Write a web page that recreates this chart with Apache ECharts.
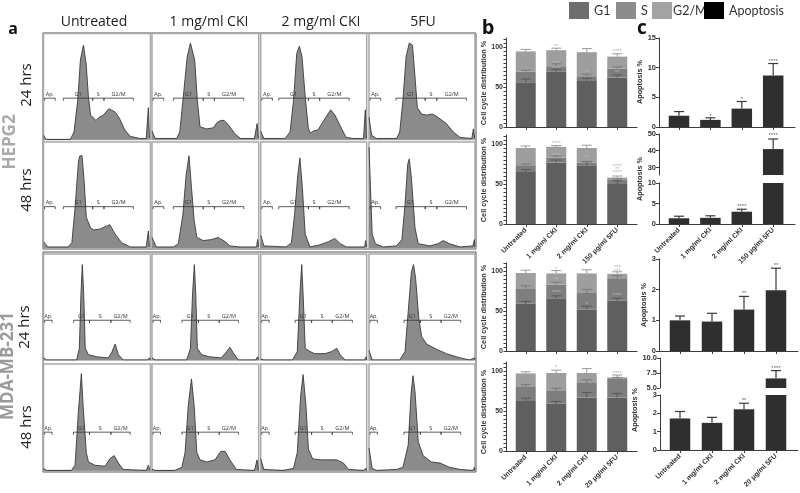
<!DOCTYPE html>
<html><head><meta charset="utf-8">
<style>html,body{margin:0;padding:0;background:#fff}#c{width:800px;height:493px}</style>
<script src="https://cdn.jsdelivr.net/npm/echarts@6/dist/echarts.min.js"></script>
</head><body><div id="c"></div>
<script>
// ---------- DATA ----------
const treatmentTitles = ['Untreated','1 mg/ml CKI','2 mg/ml CKI','5FU'];
const hepg2Cats = ['Untreated','1 mg/ml CKI','2 mg/ml CKI','150 μg/ml 5FU'];
const mdaCats = ['Untreated','1 mg/ml CKI','2 mg/ml CKI','20 μg/ml 5FU'];

// histograms: [channel %, count %]
const hist_H24_untreated=[[0,4],[2.5,0],[25,0],[28.5,7],[32,37],[34.5,75],[37.3,89],[39.8,72],[42,40],[44,23],[49,18],[52,21],[56,23],[61,29],[66.8,26],[71,20],[76,9],[81,3],[90,1],[96,1],[98,30],[99,1]];
const hist_H24_ck1=[[0,8],[1,7],[3,1],[23,1],[26,7],[29,37],[33,78],[36,91],[40,75],[42.5,37],[45,12],[51,10],[57.5,11],[61,16],[64.5,18],[67.5,18],[71.5,14],[78,5],[83,1],[96,1],[98.5,15],[99.7,1]];
const hist_H24_ck2=[[0,8],[1,9],[3,1],[23,1],[27.7,7],[31,37],[34,81],[36.5,88],[39,78],[42,40],[45,10],[47,6],[49.7,8],[54,9],[59,17],[66,28],[70,23],[75,13],[80.5,2],[87,1],[97,1],[98.7,28],[99.7,1]];
const hist_H24_fu=[[0,21],[0.6,21],[2.5,4],[7,1],[26,1],[29,7],[32,37],[35,78],[38,91],[41,89],[43.4,59],[45.6,30],[49.7,24],[54,23],[60,24],[65,21],[73,15],[79.5,7],[86,2],[97,1],[98.5,10],[99.7,1]];
const hist_H48_untreated=[[0,6],[1,6],[4,1],[23,1],[26.5,5],[29.5,38],[32.7,82],[34,87],[36,87],[38,63],[40,29],[44,19],[47,17],[53,18],[62,22],[67,13],[73,5],[81,1],[96,1],[98,16],[99,1]];
const hist_H48_ck1=[[0,10],[1,10],[4,1],[20,1],[24.7,4],[29,32],[32,69],[34.7,87],[37,57],[39.5,26],[42,10],[48,7],[56,8],[62,10],[68.5,6],[73,2],[82.5,1],[98,1],[99,8],[99.9,1]];
const hist_H48_ck2=[[0,12],[1,12],[3,2],[24,1],[29,5],[32,32],[35,69],[37,85],[39.3,57],[42,13],[46.5,1],[56,3],[64,6],[70,9],[75,4],[81,1],[98,1],[99,7],[99.9,1]];
const hist_H48_fu=[[0,95],[1,95],[3,13],[6,4],[13.5,1],[26,2],[31,8],[34,41],[36.5,79],[38,84],[40,66],[43.4,19],[46.5,4],[57.5,2],[65,4],[70,7],[76,4],[86,1],[98,2],[99.5,8],[99.9,1]];
const hist_M24_untreated=[[0,2],[1,2],[3,0],[31,0],[33.5,11],[35,62],[36.3,90],[37.6,62],[39,11],[42,5],[50,3],[60.5,2],[63.7,7],[67,15],[70,5],[74.5,0],[97,0],[99,2],[99.8,0]];
const hist_M24_ck1=[[0,2],[1,2],[3,0],[32.5,0],[36,11],[38,62],[39.7,90],[41,62],[42.5,11],[46.5,5],[54,3],[65,2],[70,8],[73,12],[76,7],[81,0],[97,0],[99,3],[99.8,0]];
const hist_M24_ck2=[[0,1],[1,1],[3,0],[30,0],[34.5,8],[37,62],[38.7,90],[40,62],[42,11],[46.5,8],[51,6],[60.7,6],[67,8],[71.7,11],[75,5],[79.5,0],[98,0],[99.5,3],[99.9,0]];
const hist_M24_fu=[[0,9],[0.6,9],[3,0],[29,0],[34,8],[37,46],[40,83],[42,90],[44,77],[47,39],[49.7,22],[54.4,15],[64,10],[73,6],[86,2],[95,0],[99.5,2],[99.9,0]];
const hist_M48_untreated=[[0,2],[1,2],[3,0],[26,0],[29.5,5],[32.6,55],[35.4,91],[37,61],[40,17],[42,8],[48,5],[57.5,4],[62,11],[66,14],[70,7],[74.5,1],[96,0],[98,5],[99.5,0]];
const hist_M48_ck1=[[0,1],[1,1],[3,0],[21,0],[28,3],[31,17],[34,61],[37,86],[39.5,61],[42,17],[45,10],[51,8],[59,10],[64.5,18],[68.5,18],[73,10],[79,1],[96,0],[98.5,10],[99.7,0]];
const hist_M48_ck2=[[0,11],[0.6,11],[3,1],[21,0],[31,2],[34.5,17],[37.7,70],[40,90],[42.7,61],[45,20],[49,11],[56,10],[62,10],[71.7,10],[78,7],[83,1],[97,0],[99.5,2],[99.9,0]];
const hist_M48_fu=[[0,21],[1,21],[3,2],[7,0],[26,1],[32,3],[37,24],[39.6,71],[41.5,89],[43.4,74],[46.5,27],[51,14],[59,8],[67,7],[76,3],[86,1],[98,0],[99.5,3],[99.9,0]];
// gates: ticks of Ap start/end and G1/S/G2M edges (channel %), and height
const gatesHepg2=[[1,11,18.6,46,56.5,84],[1,11,20,48,58.5,86],[1,11,17,45,55.6,83.5],[1,11,25.5,53,64,92]];
const gatesMda=[[1,8,28,43,63,81],[1,8,28,43.5,63,81],[1,8,32.5,48,67.5,86.5],[1,8,33,48.5,68,86.5]];
const gateLevels=[39,39,37.5,36];

// panel b: segments of stacked bars
const b1G1=[56,69,57.5,62], b1S=[13,7,6,11], b1G2M=[25.5,20,30,15];
const b1ErrG1=[60,72,61,65], b1ErrS=[71,79,66,75], b1ErrG2M=[97,98.5,98,91.5];
const b2G1=[65,77,73.5,50], b2S=[8.5,6,3.5,5], b2G2M=[21.5,13.5,18,3];
const b2ErrG1=[68,80,78,54], b2ErrS=[75,85,78,56.5], b2ErrG2M=[97.5,98,98.5,60];
const b3G1=[59,66,52,63], b3S=[18.5,17,20.5,28], b3G2M=[20,14,24.5,5.5];
const b3ErrG1=[62,69,56,66], b3ErrS=[81.5,86,77,94], b3ErrG2M=[101,100.5,101.5,99];
const b4G1=[62.5,59,67,67], b4S=[17.5,16,18,23], b4G2M=[17,22.5,12.5,2];
const b4ErrG1=[66,62,73,72], b4ErrS=[83,78.5,89,92], b4ErrG2M=[99,101,103,95];
const b1Stars=[[1,101,'**'],[3,94,'****'],[1,80,'***'],[1,73,'****'],[2,68,'**'],[3,68,'**']];
const b2Stars=[[1,101,'****'],[1,91,'*'],[1,86,'****'],[2,88,'*'],[2,83.5,'***'],[3,72,'****'],[3,68,'**'],[3,64,'****']];
const b3Stars=[[1,102.5,'*'],[1,89,'**'],[1,73,'****'],[2,58,'*'],[3,104,'***'],[3,100,'***'],[3,69,'****']];
const b4Stars=[[1,104,'*'],[3,97,'****']];

// panel c
const c1Values=[1.9,1.2,3.1,8.7], c1Err=[2.6,1.55,4.3,10.7], c1Stars=[[1,1.8,'*'],[2,4.7,'*'],[3,11.1,'****']];
const c2Values=[1.4,1.5,3,41], c2Err=[1.9,2,3.6,47], c2Stars=[[2,4.2,'****']], c2TopStars=[[3,49,'****']];
const c3Values=[1,0.96,1.35,1.98], c3Err=[1.14,1.23,1.78,2.7], c3Stars=[[2,1.88,'**'],[3,2.8,'**']];
const c4Values=[1.72,1.48,2.22,6.6], c4Err=[2.1,1.78,2.55,7.9], c4Stars=[[2,2.7,'**']], c4TopStars=[[3,8.3,'****']];

// ---------- BUILD ----------
const SANS='"Liberation Sans",Arial,sans-serif', OPEN='"Open Sans",sans-serif';
const grid=[],xAxis=[],yAxis=[],series=[],graphic=[];
const noAxis=(t,min,max)=>({type:t||'value',min:min,max:max,show:false});
function addGrid(g,x,y){const i=grid.length;grid.push(g);x.gridIndex=i;y.gridIndex=i;xAxis.push(x);yAxis.push(y);return i;}

const colsX=[[43.5,150.5],[152,258.7],[260.7,366.7],[369,475]];
const rowsY=[[33.5,106],[142,106],[254,106],[364,106.5]];
const hists=[
 [hist_H24_untreated,hist_H24_ck1,hist_H24_ck2,hist_H24_fu],
 [hist_H48_untreated,hist_H48_ck1,hist_H48_ck2,hist_H48_fu],
 [hist_M24_untreated,hist_M24_ck1,hist_M24_ck2,hist_M24_fu],
 [hist_M48_untreated,hist_M48_ck1,hist_M48_ck2,hist_M48_fu]];

[[43,33,433,216],[43,252,433,220]].forEach(f=>{
  addGrid({left:f[0],top:f[1],width:f[2],height:f[3],show:true,borderColor:'#555',borderWidth:1,backgroundColor:'#fff'},noAxis('value',0,1),noAxis('value',0,1));
});
hists.forEach((row,r)=>row.forEach((h,c)=>{
  const i=addGrid({left:colsX[c][0],width:colsX[c][1]-colsX[c][0],top:rowsY[r][0],height:rowsY[r][1],show:true,borderColor:'#a9a9a9',borderWidth:1.5,backgroundColor:'#fff'},noAxis('value',0,100),noAxis('value',0,100));
  series.push({type:'line',xAxisIndex:i,yAxisIndex:i,data:h,showSymbol:false,silent:true,lineStyle:{color:'#3a3a3a',width:0.9},areaStyle:{color:'#8b8b8b',opacity:1},z:2});
  const g=(r<2?gatesHepg2:gatesMda)[c], lv=gateLevels[r];
  const segs=[[g[0],g[1],'Ap.'],[g[2],g[3],'G1'],[g[3],g[4],'S'],[g[4],g[5],'G2/M']];
  series.push({type:'custom',xAxisIndex:i,yAxisIndex:i,data:segs.map(s=>[s[0],s[1]]),z:5,silent:true,
    renderItem:(p,api)=>{
      const s=segs[p.dataIndex],a=api.coord([s[0],lv]),b=api.coord([s[1],lv]);
      const st={stroke:'#333',lineWidth:0.8,fill:null};
      return {type:'group',children:[
        {type:'line',shape:{x1:a[0],y1:a[1],x2:b[0],y2:b[1]},style:st},
        {type:'line',shape:{x1:a[0],y1:a[1],x2:a[0],y2:a[1]+2.5},style:st},
        {type:'line',shape:{x1:b[0],y1:b[1],x2:b[0],y2:b[1]+2.5},style:st},
        {type:'text',style:{x:(a[0]+b[0])/2,y:a[1]-4,text:s[2],fill:'#333',font:'5.5px '+OPEN,textAlign:'center',textVerticalAlign:'middle'}}
      ]};
    }});
}));

function errSeries(i,vals,color,lw){
  return {type:'custom',xAxisIndex:i,yAxisIndex:i,z:4,silent:true,data:vals.map(v=>[v[0],v[1],v[2]]),
    renderItem:(p,api)=>{
      const t=api.coord([api.value(0),api.value(1)]),b=api.coord([api.value(0),api.value(2)]);
      const st={stroke:color,lineWidth:lw,fill:null};
      return {type:'group',children:[
        {type:'line',shape:{x1:t[0],y1:t[1],x2:b[0],y2:b[1]},style:st},
        {type:'line',shape:{x1:t[0]-5,y1:t[1],x2:t[0]+5,y2:t[1]},style:st}]};
    }};
}
function starSeries(i,list,color,size){
  return {type:'custom',xAxisIndex:i,yAxisIndex:i,z:6,silent:true,data:list.map(s=>[s[0],s[1]]),
    renderItem:(p,api)=>{
      const s=list[p.dataIndex],a=api.coord([s[0],s[1]]);
      return {type:'text',style:{x:a[0],y:a[1],text:s[2],fill:color,font:size+'px '+SANS,textAlign:'center',textVerticalAlign:'middle'}};
    }};
}
function axisLine(left,width,top,height){
  addGrid({left:left,width:width,top:top,height:height},
    {type:'value',min:0,max:1,position:'bottom',axisLine:{show:true,onZero:false,lineStyle:{color:'#3c3c3c',width:1}},axisTick:{show:false},axisLabel:{show:false},splitLine:{show:false}},
    {type:'value',min:0,max:1,show:false});
}
const catAxis=(cats,labels)=>({type:'category',data:cats,axisLine:{show:false},
  axisTick:{show:true,alignWithLabel:true,length:3,lineStyle:{color:'#3c3c3c'}},
  axisLabel:{show:labels,rotate:45,fontSize:7,fontWeight:'bold',color:'#333',fontFamily:SANS,margin:5,interval:0}});
const valAxis=(min,max,ticks,offset,size,fmt)=>({type:'value',min:min,max:max,offset:offset,
  axisLine:{show:true,lineStyle:{color:'#3c3c3c',width:1}},
  axisTick:{show:true,length:3,lineStyle:{color:'#3c3c3c'},customValues:ticks},
  axisLabel:{fontSize:size,fontWeight:'bold',color:'#333',fontFamily:SANS,margin:3,customValues:ticks,formatter:fmt||(v=>String(v))},
  splitLine:{show:false}});
const bTicks=[0,5,10,15,20,25,30,35,40,45,50,55,60,65,70,75,80,85,90,95,100,105,110];

const bRows=[
 {top:38,bottom:127,g1:b1G1,s:b1S,g:b1G2M,eg1:b1ErrG1,es:b1ErrS,eg:b1ErrG2M,stars:b1Stars,cats:hepg2Cats,labels:false},
 {top:135,bottom:224,g1:b2G1,s:b2S,g:b2G2M,eg1:b2ErrG1,es:b2ErrS,eg:b2ErrG2M,stars:b2Stars,cats:hepg2Cats,labels:true},
 {top:263,bottom:351,g1:b3G1,s:b3S,g:b3G2M,eg1:b3ErrG1,es:b3ErrS,eg:b3ErrG2M,stars:b3Stars,cats:mdaCats,labels:false},
 {top:362,bottom:451,g1:b4G1,s:b4S,g:b4G2M,eg1:b4ErrG1,es:b4ErrS,eg:b4ErrG2M,stars:b4Stars,cats:mdaCats,labels:true}];
const colG1='#5f5f5f',colS='#7e7e7e',colG2='#9e9e9e',colAp='#2f2f2f';
bRows.forEach(r=>{
  axisLine(506,131,r.top,r.bottom-r.top);
  const ymax=(r.bottom-r.top)/0.8;
  const ax=valAxis(0,ymax,bTicks.filter(v=>v<=ymax),4.5,7);
  ax.axisLabel.customValues=[0,50,100];
  ax.axisTick.length=2.5;
  const i=addGrid({left:510.5,width:122,top:r.top,height:r.bottom-r.top},catAxis(r.cats,r.labels),ax);
  const add=(name,d,color)=>series.push({type:'bar',name:name,xAxisIndex:i,yAxisIndex:i,stack:'x'+i,data:d,barWidth:20,itemStyle:{color:color},silent:true,z:2});
  add('G1',r.g1,colG1);add('S',r.s,colS);add('G2/M',r.g,colG2);
  const cum1=r.g1, cum2=r.g1.map((v,k)=>v+r.s[k]), cum3=cum2.map((v,k)=>v+r.g[k]);
  series.push(errSeries(i,r.eg1.map((v,k)=>[k,v,cum1[k]]),'#555',0.9));
  series.push(errSeries(i,r.es.map((v,k)=>[k,v,cum2[k]]),'#777',0.9));
  series.push(errSeries(i,r.eg.map((v,k)=>[k,v,cum3[k]]),'#909090',0.9));
  series.push(starSeries(i,r.stars,'#b5b5b5',6));
});

function apBars(i,vals,errs,stars){
  series.push({type:'bar',name:'Apoptosis',xAxisIndex:i,yAxisIndex:i,data:vals,barWidth:20.5,itemStyle:{color:colAp},silent:true,z:2});
  series.push(errSeries(i,errs,'#3a3a3a',1.2));
  series.push(starSeries(i,stars,'#666',6));
}
// c row 1
axisLine(659,136,38,89);
let ci=addGrid({left:663.3,width:125.6,top:38,height:89},catAxis(hepg2Cats,false),valAxis(0,15,[0,5,10,15],4.3,7.5));
apBars(ci,c1Values,c1Values.map((v,k)=>[k,c1Err[k],v]),c1Stars);
// c row 2 (broken axis)
axisLine(659,136,183,41);
ci=addGrid({left:663.3,width:125.6,top:183,height:41},catAxis(hepg2Cats,true),valAxis(0,10,[0,5,10],4.3,7.5));
apBars(ci,c2Values,[0,1,2].map(k=>[k,c2Err[k],c2Values[k]]),c2Stars);
let cu=addGrid({left:663.3,width:125.6,top:134,height:41},{type:'category',data:hepg2Cats,show:false},valAxis(25.5,50,[30,40,50],4.3,7.5));
apBars(cu,[null,null,null,c2Values[3]],[[3,c2Err[3],c2Values[3]]],c2TopStars);
// c row 3
axisLine(659,139,259,92);
ci=addGrid({left:664,width:128,top:259,height:92},catAxis(mdaCats,false),valAxis(0,3,[0,1,2,3],5,7.5));
apBars(ci,c3Values,c3Values.map((v,k)=>[k,c3Err[k],v]),c3Stars);
// c row 4 (broken axis)
axisLine(660,138,395,55);
ci=addGrid({left:664,width:128,top:395,height:55},catAxis(mdaCats,true),valAxis(0,3,[0,1,2,3],4,7.5));
apBars(ci,c4Values,[0,1,2].map(k=>[k,c4Err[k],c4Values[k]]),c4Stars);
cu=addGrid({left:664,width:128,top:358,height:30},{type:'category',data:mdaCats,show:false},valAxis(5,10,[5,7.5,10],4,7.5,v=>v.toFixed(1)));
apBars(cu,[null,null,null,c4Values[3]],[[3,c4Err[3],c4Values[3]]],c4TopStars);

// text
function text(t,x,y,font,fill,rot,align){graphic.push({type:'text',x:x,y:y,rotation:rot||0,silent:true,style:{text:t,font:font,fill:fill||'#222',textAlign:align||'center',textVerticalAlign:'middle'}});}
const Q=Math.PI/2;
[94,209,321,423].forEach((x,i)=>text(treatmentTitles[i],x,22,'14px '+OPEN,'#222'));
text('a',13,29,'bold 16px '+OPEN,'#111');
text('b',488,28,'bold 20px '+OPEN,'#111');
text('c',642,29,'bold 19px '+OPEN,'#111');
text('24 hrs',27,85,'15px '+OPEN,'#222',Q);
text('48 hrs',27,190,'15px '+OPEN,'#222',Q);
text('24 hrs',25,327,'15px '+OPEN,'#222',Q);
text('48 hrs',27,427,'15px '+OPEN,'#222',Q);
text('HEPG2',10,142,'bold 17px '+OPEN,'#aaa',Q);
text('MDA-MB-231',8,366,'bold 17px '+OPEN,'#9a9a9a',Q);
[83,180,307,412].forEach(y=>text('Cell cycle distribution %',484,y,'bold 7.3px '+SANS,'#333',Q));
[[640,82],[640,179],[644,305],[635,410]].forEach(p=>text('Apoptosis %',p[0],p[1],'bold 7.3px '+SANS,'#333',Q));

const legItem=(name,left,color)=>({left:left,top:2,padding:0,data:[{name:name,itemStyle:{color:color,borderWidth:0}}],selectedMode:false,icon:'rect',itemWidth:20,itemHeight:17,
  textStyle:{fontFamily:'Lato,sans-serif',fontSize:12.5,color:'#333',padding:name==='G2/M'?[0,0,0,-4]:0}});

const chart=echarts.init(document.getElementById('c'),null,{renderer:'canvas'});
chart.setOption({animation:false,backgroundColor:'#fff',grid,xAxis,yAxis,series,graphic,
  legend:[legItem('G1',569,'#6e6e6e'),legItem('S',616,'#8c8c8c'),legItem('G2/M',652,'#a3a3a3'),legItem('Apoptosis',704,'#000')]});
</script></body></html>
